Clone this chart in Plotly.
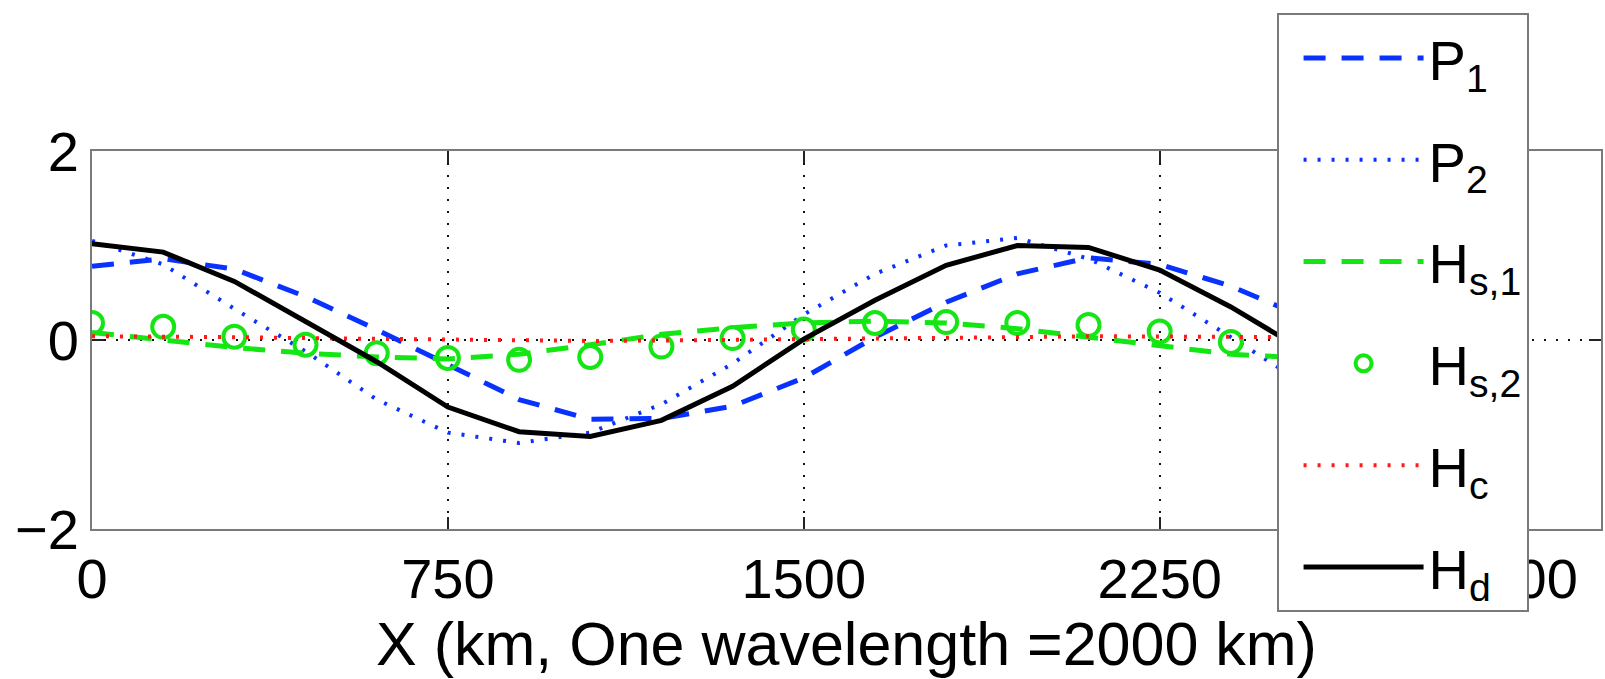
import plotly.graph_objects as go

# x positions (km), sampled every 150 km
x_km = [0, 150, 300, 450, 600, 750, 900, 1050, 1200, 1350, 1500, 1650, 1800, 1950, 2100, 2250, 2400, 2550]

p1 = [0.78, 0.86, 0.75, 0.46, 0.11, -0.26, -0.63, -0.84, -0.83, -0.70, -0.40, 0.03, 0.40, 0.70, 0.87, 0.80, 0.57, 0.25]
p2 = [1.05, 0.80, 0.33, -0.12, -0.63, -0.98, -1.09, -0.98, -0.68, -0.25, 0.27, 0.70, 1.00, 1.08, 0.86, 0.50, 0.03, -0.45]
hs1 = [0.08, 0.00, -0.08, -0.14, -0.18, -0.20, -0.15, -0.05, 0.06, 0.13, 0.18, 0.20, 0.18, 0.12, 0.03, -0.07, -0.15, -0.19]
hs2 = [0.18, 0.14, 0.035, -0.05, -0.14, -0.19, -0.21, -0.18, -0.07, 0.02, 0.11, 0.18, 0.19, 0.18, 0.16, 0.09, -0.02, -0.10]
hc = [0.04, 0.04, 0.03, 0.02, 0.01, 0.0, -0.005, -0.01, -0.005, 0.0, 0.005, 0.01, 0.02, 0.03, 0.04, 0.04, 0.04, 0.03]
hd = [1.02, 0.93, 0.62, 0.20, -0.23, -0.71, -0.97, -1.02, -0.85, -0.49, 0.01, 0.42, 0.79, 1.00, 0.98, 0.74, 0.35, -0.10]

x_ticks = [0, 750, 1500, 2250, 3000]
y_ticks = [-2, 0, 2]
x_title = "X (km, One wavelength =2000 km)"
names = ["P<sub>1</sub>", "P<sub>2</sub>", "H<sub>s,1</sub>", "H<sub>s,2</sub>", "H<sub>c</sub>", "H<sub>d</sub>"]

BLUE = "#0a32ff"
GREEN = "#14e614"
RED = "#ff1a1a"
FONT = "Liberation Sans, Arial, Helvetica, sans-serif"

fig = go.Figure()
fig.add_trace(go.Scatter(x=x_km, y=p1, mode="lines", name=names[0], legendgroup="a",
                         line=dict(color=BLUE, width=5, dash="22px,16px")))
fig.add_trace(go.Scatter(x=x_km, y=p2, mode="lines", name=names[1], legendgroup="b",
                         line=dict(color=BLUE, width=4, dash="3px,11px")))
fig.add_trace(go.Scatter(x=x_km, y=hs1, mode="lines", name=names[2], legendgroup="c",
                         line=dict(color=GREEN, width=5, dash="22px,16px")))
fig.add_trace(go.Scatter(x=x_km, y=hs2, mode="markers", name=names[3], legendgroup="d",
                         marker=dict(symbol="circle-open", size=22, color=GREEN,
                                     line=dict(color=GREEN, width=4))))
fig.add_trace(go.Scatter(x=x_km, y=hc, mode="lines", name=names[4], legendgroup="e",
                         line=dict(color=RED, width=4, dash="3px,11px")))
fig.add_trace(go.Scatter(x=x_km, y=hd, mode="lines", name=names[5], legendgroup="f",
                         line=dict(color="black", width=5)))

axis_common = dict(
    showline=True, linecolor="#7a7a7a", linewidth=2, mirror="ticks",
    ticks="inside", ticklen=12, tickwidth=2, tickcolor="#222222",
    showgrid=True, gridcolor="#111111", gridwidth=1.5, griddash="2px,10px",
    zeroline=False,
    tickfont=dict(family=FONT, size=56, color="black"),
)

fig.update_layout(
    width=1605, height=679,
    margin=dict(l=92, r=2, t=151, b=150),
    paper_bgcolor="white", plot_bgcolor="white",
    font=dict(family=FONT, color="black"),
    xaxis=dict(range=[0, 3180], tickvals=x_ticks, ticktext=[str(v) for v in x_ticks],
               title=dict(text=x_title, font=dict(family=FONT, size=61, color="black"), standoff=2),
               **axis_common),
    yaxis=dict(range=[-2, 2], tickvals=y_ticks, **axis_common),
    legend=dict(
        x=0.785, y=1.365, xanchor="left", yanchor="top",
        bgcolor="white", bordercolor="#7a7a7a", borderwidth=2,
        font=dict(family=FONT, size=56, color="black"),
        itemwidth=120, indentation=20, tracegroupgap=26, traceorder="grouped",
        maxheight=900,
    ),
    showlegend=True,
)

fig.write_html("out.html")
